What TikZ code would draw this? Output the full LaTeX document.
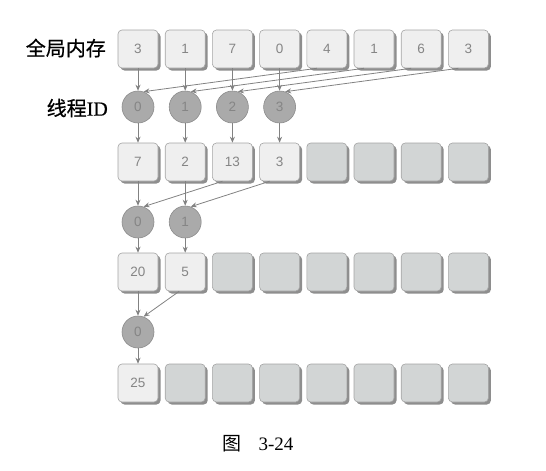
\documentclass[tikz,border=0pt]{standalone}
\usepackage{fontspec}
\setmainfont{Liberation Serif}
\newfontfamily\cjk{Noto Sans CJK SC}
\newfontfamily\cjkb[FakeBold=0.6]{Noto Sans CJK SC}
\newfontfamily\serifb[FakeBold=0.6]{Liberation Serif}
\newfontfamily\numfont{Liberation Sans}
\usetikzlibrary{shadows,arrows.meta}
\definecolor{boxfill}{HTML}{EFEFEF}
\definecolor{emptyfill}{HTML}{D2D5D5}
\definecolor{boxline}{HTML}{A4A4A4}
\definecolor{shadowc}{HTML}{8E8E8E}
\definecolor{circfill}{HTML}{AAAAAA}
\definecolor{circline}{HTML}{8C8C8C}
\definecolor{numc}{HTML}{858585}
\definecolor{arrowc}{HTML}{828282}
\tikzset{
  cell/.style={rectangle, rounded corners=4pt, minimum width=40pt, minimum height=38pt,
    inner sep=0pt, draw=boxline, line width=0.6pt, fill=boxfill,
    text=numc, font=\numfont\fontsize{13.5}{14}\selectfont,
    drop shadow={shadow xshift=2.5pt, shadow yshift=-2.5pt, fill=shadowc, opacity=1}},
  emptycell/.style={cell, fill=emptyfill},
  thread/.style={circle, minimum size=32pt, inner sep=0pt, draw=circline, line width=0.6pt,
    fill=circfill, text=numc, font=\numfont\fontsize{13.5}{14}\selectfont},
  flow/.style={draw=arrowc, line width=0.8pt, -{Stealth[length=6pt,width=5pt]}},
  label/.style={anchor=east, inner sep=0pt, font=\fontsize{20}{22}\selectfont}
}
\begin{document}
\begin{tikzpicture}[x=1pt,y=-1pt]
\useasboundingbox (0,0) rectangle (546,471);
\def\xa{138}\def\dx{47.2}
% row 1
\foreach \v [count=\i from 0] in {3,1,7,0,4,1,6,3}
  \node[cell] (g\i) at (\xa+\dx*\i,49) {\v};
% threads 1
\foreach \v [count=\i from 0] in {0,1,2,3}
  \node[thread] (t\i) at (\xa+\dx*\i,107) {\v};
% row 2
\foreach \v [count=\i from 0] in {7,2,13,3}
  \node[cell] (r\i) at (\xa+\dx*\i,162) {\v};
\foreach \i in {4,...,7}
  \node[emptycell] (r\i) at (\xa+\dx*\i,162) {};
% threads 2
\foreach \v [count=\i from 0] in {0,1}
  \node[thread] (u\i) at (\xa+\dx*\i,222) {\v};
% row 3
\foreach \v [count=\i from 0] in {20,5}
  \node[cell] (s\i) at (\xa+\dx*\i,272) {\v};
\foreach \i in {2,...,7}
  \node[emptycell] (s\i) at (\xa+\dx*\i,272) {};
% thread 3
\node[thread] (v0) at (\xa,332) {0};
% row 4
\node[cell] (w0) at (\xa,383) {25};
\foreach \i in {1,...,7}
  \node[emptycell] (w\i) at (\xa+\dx*\i,383) {};
% labels
\node[label] (lg) at (106,48) {\cjkb 全局内存};
\node[label] (lt) at (108,108) {\cjkb 线程\serifb ID};
\node[font=\fontsize{19}{22}\selectfont, inner sep=0pt] (cap) at (258,444) {\cjk 图\hspace{0.9em}\rmfamily 3-24};
% arrows level 1
\foreach \i in {0,...,3} {
  \pgfmathtruncatemacro{\j}{\i+4}
  \draw[flow] (g\i.south) -- (t\i.north);
  \draw[flow] ([xshift=-10pt]g\j.south) -- (t\i.70);
  \draw[flow] (t\i.south) -- (r\i.north);
}
% arrows level 2
\foreach \i in {0,1} {
  \pgfmathtruncatemacro{\j}{\i+2}
  \draw[flow] (r\i.south) -- (u\i.north);
  \draw[flow] ([xshift=-10pt]r\j.south) -- (u\i.70);
  \draw[flow] (u\i.south) -- (s\i.north);
}
% arrows level 3
\draw[flow] (s0.south) -- (v0.north);
\draw[flow] ([xshift=-6pt]s1.south) -- (v0.70);
\draw[flow] (v0.south) -- (w0.north);
\end{tikzpicture}
\end{document}
